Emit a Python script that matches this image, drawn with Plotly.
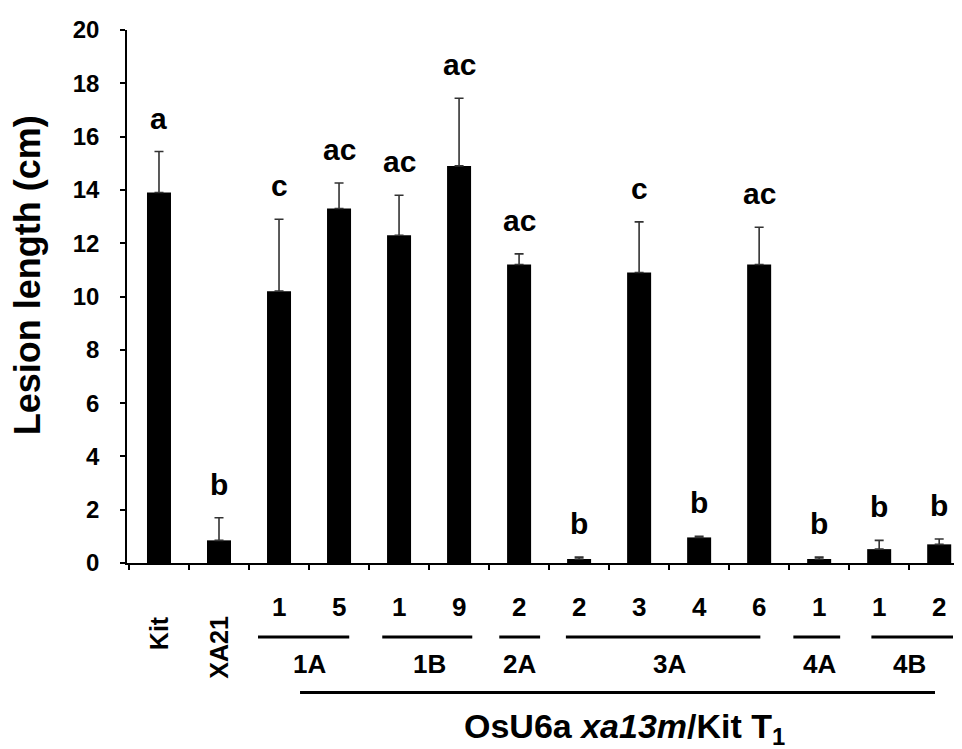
import plotly.graph_objects as go

# ---- data ----
categories = ["Kit", "XA21", "1A-1", "1A-5", "1B-1", "1B-9", "2A-2",
              "3A-2", "3A-3", "3A-4", "3A-6", "4A-1", "4B-1", "4B-2"]
line_numbers = ["", "", "1", "5", "1", "9", "2", "2", "3", "4", "6", "1", "1", "2"]
means = [13.9, 0.85, 10.2, 13.3, 12.3, 14.9, 11.2, 0.15, 10.9, 0.96, 11.2, 0.15, 0.52, 0.7]
errors = [1.54, 0.85, 2.7, 0.96, 1.5, 2.54, 0.4, 0.07, 1.9, 0.04, 1.4, 0.07, 0.33, 0.2]
letters = ["a", "b", "c", "ac", "ac", "ac", "ac", "b", "c", "b", "ac", "b", "b", "b"]
groups = ["1A", "1B", "2A", "3A", "4A", "4B"]
group_members = [["1A-1", "1A-5"], ["1B-1", "1B-9"], ["2A-2"],
                 ["3A-2", "3A-3", "3A-4", "3A-6"], ["4A-1"], ["4B-1", "4B-2"]]
y_ticks = [0, 2, 4, 6, 8, 10, 12, 14, 16, 18, 20]

FONT = "Arial, Liberation Sans, sans-serif"
idx = {c: i for i, c in enumerate(categories)}

fig = go.Figure()
fig.add_trace(go.Bar(
    x=categories, y=means, width=0.4,
    marker=dict(color="black", line=dict(width=0)),
    error_y=dict(type="data", symmetric=False, array=errors,
                 arrayminus=[0] * len(errors), color="#333333",
                 thickness=1.6, width=4.5),
    showlegend=False,
))

ann = []
# significance letters
for c, m, e, t in zip(categories, means, errors, letters):
    ann.append(dict(x=c, y=m + e, xref="x", yref="y", text=t, showarrow=False,
                    yanchor="bottom", yshift=15,
                    font=dict(family=FONT, size=30, color="black", weight="bold")))
# line numbers under axis
for c, n in zip(categories, line_numbers):
    if n:
        ann.append(dict(x=c, y=-0.083, xref="x", yref="paper", text=n,
                        showarrow=False, yanchor="middle",
                        font=dict(family=FONT, size=26, color="black", weight="bold")))
# rotated control labels
for c in ["Kit", "XA21"]:
    ann.append(dict(x=c, y=-0.096, xref="x", yref="paper", text=c, textangle=-90,
                    showarrow=False, yanchor="top", xanchor="center",
                    font=dict(family=FONT, size=25, color="black", weight="bold")))

shapes = []
pads = [(-0.35, 0.17), (-0.28, 0.22), (-0.33, 0.35), (-0.22, 0.02), (-0.43, 0.35), (-0.13, 0.23)]
for g, mem, (p0, p1) in zip(groups, group_members, pads):
    i0, i1 = idx[mem[0]], idx[mem[-1]]
    shapes.append(dict(type="line", xref="x", yref="paper", x0=i0 + p0, x1=i1 + p1,
                       y0=-0.139, y1=-0.139, line=dict(color="black", width=3)))
    ann.append(dict(x=(i0 + i1) / 2, y=-0.189, xref="x", yref="paper", text=g,
                    showarrow=False, yanchor="middle",
                    font=dict(family=FONT, size=26, color="black", weight="bold")))
# long line
shapes.append(dict(type="line", xref="x", yref="paper", x0=idx["1A-1"] + 0.35,
                   x1=idx["4B-2"] - 0.07, y0=-0.243, y1=-0.243,
                   line=dict(color="black", width=3)))
ann.append(dict(x=7.75, y=-0.311, xref="x", yref="paper",
                text="OsU6a <i>xa13m</i>/Kit T<sub>1</sub>", showarrow=False,
                yanchor="middle",
                font=dict(family=FONT, size=34, color="black", weight="bold")))
# y title
ann.append(dict(x=-0.119, y=0.539, xref="paper", yref="paper",
                text="Lesion length (cm)", textangle=-90, showarrow=False,
                xanchor="center", yanchor="middle",
                font=dict(family=FONT, size=36, color="black", weight="bold")))

fig.update_layout(
    width=962, height=749,
    margin=dict(l=119, r=8, t=15, b=194),
    paper_bgcolor="white", plot_bgcolor="white",
    annotations=ann, shapes=shapes,
    xaxis=dict(type="category", range=[-0.533, 13.38], tickson="boundaries",
               ticks="outside", ticklen=5, tickwidth=2, tickcolor="black",
               showticklabels=False, showline=True, linecolor="black",
               linewidth=2, showgrid=False, zeroline=False),
    yaxis=dict(range=[0, 20], tickvals=y_ticks, ticks="outside", ticklen=5,
               tickwidth=1.5, tickcolor="black", showline=True,
               linecolor="black", linewidth=1.5, showgrid=False,
               zeroline=False, ticklabelstandoff=16,
               tickfont=dict(family=FONT, size=24, color="black", weight="bold")),
)

fig.write_html("out.html")
